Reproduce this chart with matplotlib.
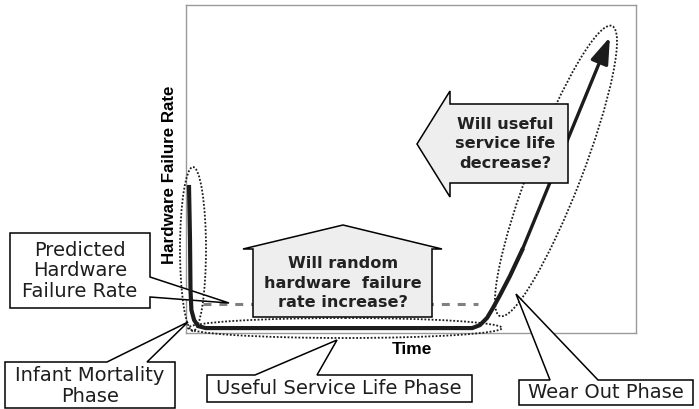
import matplotlib
matplotlib.use("Agg")
import matplotlib.pyplot as plt
from matplotlib.patches import Polygon, Ellipse
from matplotlib.transforms import Affine2D

# bathtub curve, both axes in % of the frame
time = [0.67, 0.89, 1.0, 1.2, 1.8, 2.7, 4.4, 63.6, 65.3, 66.9, 68.2, 69.8, 72.0, 74.7]
rate = [44.5, 28.4, 13.1, 7.0, 3.96, 2.1, 1.5, 1.5, 2.4, 4.6, 7.6, 11.6, 17.4, 25.3]
wear_end = (94.2, 90.2)
predicted_span = [3.8, 64.9]
predicted_rate = 8.8

x_label = "Time"
y_label = "Hardware Failure Rate"
callout_text = ["Predicted\nHardware\nFailure Rate", "Infant Mortality\nPhase",
                "Useful Service Life Phase", "Wear Out Phase"]
question_text = ["Will random\nhardware  failure\nrate increase?",
                 "Will useful\nservice life\ndecrease?"]

W, H = 699, 409
fig = plt.figure(figsize=(W / 100, H / 100), dpi=100)
ax = fig.add_axes([186 / W, 1 - 333 / H, 450 / W, 328 / H])
ax.set_xlim(0, 100)
ax.set_ylim(0, 100)
ax.set_xticks([])
ax.set_yticks([])
for s in ax.spines.values():
    s.set_color('#9a9a9a')
    s.set_linewidth(1.0)

# pixel coords, y from the top
px = Affine2D().scale(1 / W, -1 / H).translate(0, 1) + fig.transFigure

ink = '#1c1c1c'

# curve + wear out arrow
ax.plot(time, rate, color=ink, lw=3, zorder=6, clip_on=False,
        solid_joinstyle='round')
ax.annotate('', xy=wear_end, xytext=(time[-1], rate[-1]), zorder=6,
            arrowprops=dict(arrowstyle='-|>,head_length=1.6,head_width=0.55',
                            lw=2.4, color=ink, shrinkA=0, shrinkB=0,
                            mutation_scale=10))
ax.plot(predicted_span, [predicted_rate] * 2, color='#808080', lw=2.2,
        dashes=(2.6, 2.6), zorder=3)

ax.text(412, 349, x_label, transform=px, ha='center', va='center',
        fontsize=12.5, fontweight='bold', family='Liberation Sans')
ax.text(169, 175, y_label, transform=px, ha='center', va='center',
        rotation=90, fontsize=12.2, fontweight='bold', family='Liberation Sans')

# dotted phase ellipses
dot = dict(fill=False, ec=ink, lw=1.3, ls=(0, (1, 1)), transform=px,
           clip_on=False, zorder=6)
ax.add_patch(Ellipse((193, 249), 26, 164, **dot))
ax.add_patch(Ellipse((345, 328), 314, 20, **dot))
ax.add_patch(Ellipse((556, 171), 311, 52, angle=-68.9, **dot))

# callouts
box = dict(fc='white', ec='black', lw=1.1, transform=px, clip_on=False, zorder=5)
shapes = [
    [(10, 233), (150, 233), (150, 277), (229, 303), (150, 297), (150, 308), (10, 308)],
    [(5, 362), (107, 362), (188, 322), (147, 362), (175, 362), (175, 408), (5, 408)],
    [(207, 375), (255, 375), (337, 340), (317, 375), (472, 375), (472, 402), (207, 402)],
    [(519, 380), (550, 380), (516, 294), (598, 380), (693, 380), (693, 405), (519, 405)],
]
centers = [(80, 271), (90, 386), (339, 389), (606, 393)]
for pts, (cx, cy), s in zip(shapes, centers, callout_text):
    ax.add_patch(Polygon(pts, closed=True, **box))
    ax.text(cx, cy, s, transform=px, ha='center', va='center', fontsize=14,
            family='DejaVu Sans', color='#1e1e1e', linespacing=1.13, zorder=8)

# question arrows
arrow = dict(fc='#eeeeee', ec='black', lw=1.1, transform=px, clip_on=False)
house = [(253, 317), (253, 249), (243, 249), (343, 225), (442, 249), (432, 249), (432, 317)]
left = [(568, 104), (450, 104), (450, 91), (417, 144), (450, 197), (450, 183), (568, 183)]
ax.add_patch(Polygon(house, closed=True, zorder=5, **arrow))
ax.add_patch(Polygon(left, closed=True, zorder=7, **arrow))
ax.text(343, 283, question_text[0], transform=px, ha='center', va='center',
        fontsize=11.6, fontweight='bold', family='DejaVu Sans', color='#222222',
        linespacing=1.35, zorder=8)
ax.text(505, 144, question_text[1], transform=px, ha='center', va='center',
        fontsize=11.6, fontweight='bold', family='DejaVu Sans', color='#222222',
        linespacing=1.35, zorder=8)

fig.savefig('out.png', dpi=100)
